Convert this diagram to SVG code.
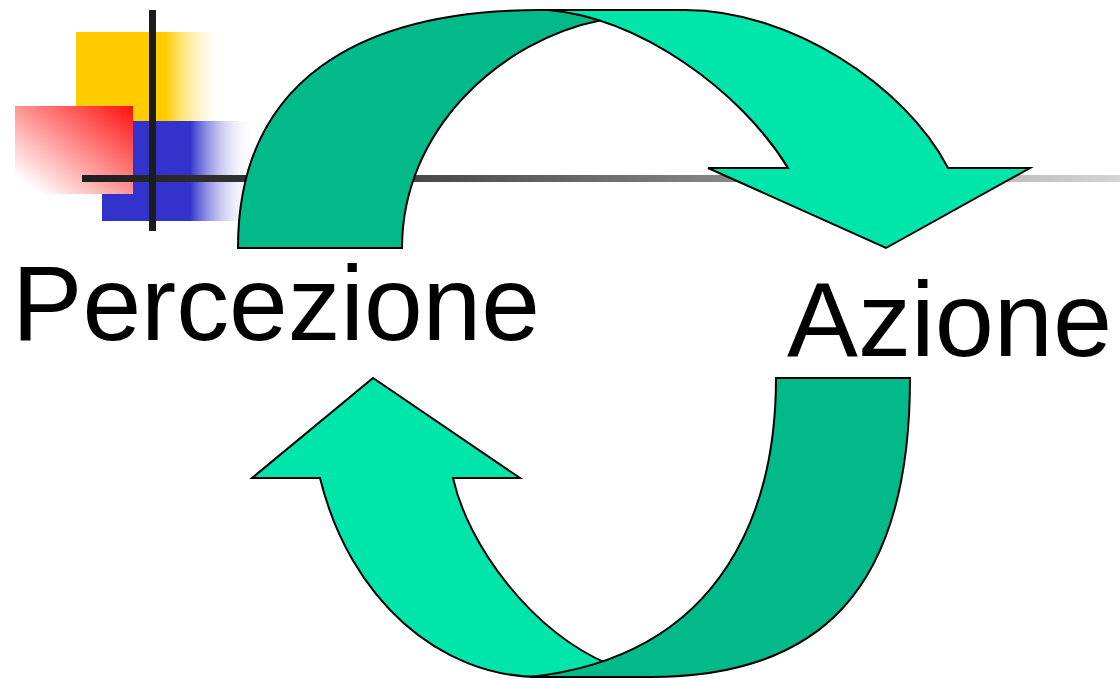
<svg xmlns="http://www.w3.org/2000/svg" width="1120" height="680" viewBox="0 0 1120 680">
  <defs>
    <linearGradient id="gYellow" x1="0" y1="0" x2="1" y2="0">
      <stop offset="0" stop-color="#FFCC00"/>
      <stop offset="0.6" stop-color="#FFCC00"/>
      <stop offset="1" stop-color="#FFFFFF" stop-opacity="0"/>
    </linearGradient>
    <linearGradient id="gBlue" x1="0" y1="0" x2="1" y2="0">
      <stop offset="0" stop-color="#3333CC"/>
      <stop offset="0.58" stop-color="#3333CC"/>
      <stop offset="1" stop-color="#FFFFFF" stop-opacity="0"/>
    </linearGradient>
    <linearGradient id="gRed" x1="1" y1="0" x2="0" y2="1">
      <stop offset="0" stop-color="#FF1010"/>
      <stop offset="0.9" stop-color="#FFFFFF"/>
      <stop offset="1" stop-color="#FFFFFF"/>
    </linearGradient>
    <linearGradient id="gLine" x1="82" y1="0" x2="1120" y2="0" gradientUnits="userSpaceOnUse">
      <stop offset="0" stop-color="#1E1E1E"/>
      <stop offset="0.3" stop-color="#444444"/>
      <stop offset="1" stop-color="#D4D4D4"/>
    </linearGradient>
  </defs>
  <style>
    .band { stroke: #000000; stroke-width: 2; stroke-linejoin: miter; }
    .dark { fill: #02BA89; }
    .light { fill: #00E5AA; }
    .label { font-family: "Comic Sans MS", "Liberation Sans", "DejaVu Sans", sans-serif; font-size: 106px; fill: #000000; }
  </style>

  <g id="decor">
    <rect x="76" y="32" width="150" height="89" fill="url(#gYellow)"/>
    <rect x="102" y="121" width="152" height="100" fill="url(#gBlue)"/>
    <rect x="15" y="106" width="118" height="88" fill="url(#gRed)"/>
    <rect x="82" y="175" width="1038" height="7" fill="url(#gLine)"/>
    <rect x="149" y="10" width="7" height="221" fill="#1C1C1C"/>
  </g>

  <g id="connectors">
    <g id="arrow-top">
      <path class="band dark" d="M238,248 C238,80 360,10 540,10 L630,10 L602,20 C500,40 402,130 402,248 Z"/>
      <path class="band light" d="M548,10 L685,10 C790,10 905,85 948,168 L1030,168 L886,248 L708,168 L788,168 C740,90 640,18 548,10 Z"/>
    </g>
    <g id="arrow-bottom">
      <path class="band light" d="M453,478 L520,478 L373,378 L252,478 L320,478 C350,600 440,677 540,677 L585,671 L608,664 C530,630 468,545 453,478 Z"/>
      <path class="band dark" d="M776,378 L910,378 C910,590 820,677 650,677 L530,677 C730,655 776,500 776,378 Z"/>
    </g>
  </g>

  <g id="label-percezione">
    <text class="label" x="12" y="340" textLength="528" lengthAdjust="spacingAndGlyphs">Percezione</text>
  </g>
  <g id="label-azione">
    <text class="label" x="787" y="356" textLength="325" lengthAdjust="spacingAndGlyphs">Azione</text>
  </g>
</svg>
